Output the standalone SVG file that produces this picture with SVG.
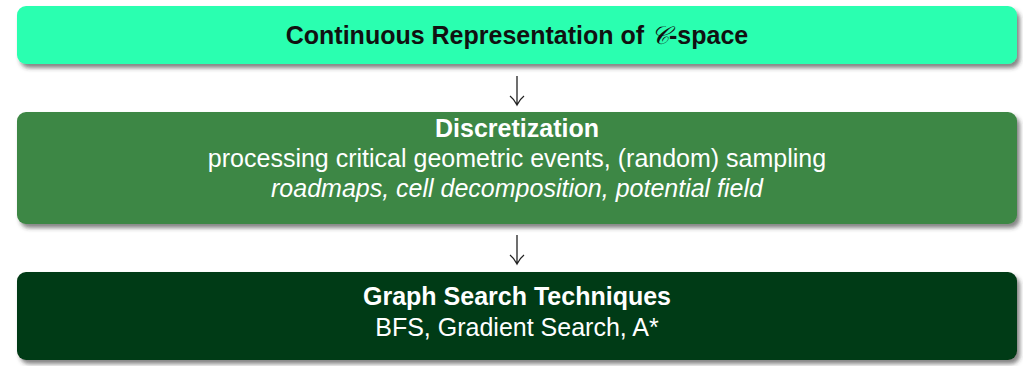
<svg xmlns="http://www.w3.org/2000/svg" width="1023" height="366" viewBox="0 0 1023 366">
<style>
.t{font-family:"Liberation Sans",Arial,sans-serif;font-size:25px;text-anchor:middle}
.b{font-weight:bold}
.i{font-style:italic}
.w{fill:#ffffff}
.k{fill:#111111}
.arr{stroke:#222;stroke-width:1.3;fill:none}
</style>
<defs>
<filter id="sh" x="-5%" y="-20%" width="110%" height="150%">
<feDropShadow dx="3" dy="4" stdDeviation="2" flood-color="#333" flood-opacity="0.6"/>
</filter>
</defs>
<g id="node1">
<rect x="17" y="6" width="1000" height="58" rx="9" fill="#2cffb0" filter="url(#sh)"/>
<text class="t b k" x="517" y="44">Continuous Representation of <tspan font-family="Liberation Serif,serif" font-style="italic" font-weight="normal">𝒞</tspan>-space</text>
</g>
<g id="node2">
<rect x="17" y="112" width="1000" height="112" rx="9" fill="#3d8744" filter="url(#sh)"/>
<text class="t b w" x="517" y="137">Discretization</text>
<text class="t w" x="517" y="167">processing critical geometric events, (random) sampling</text>
<text class="t i w" x="517" y="197">roadmaps, cell decomposition, potential field</text>
</g>
<g id="node3">
<rect x="17" y="272" width="1000" height="88" rx="9" fill="#043b14" filter="url(#sh)"/>
<text class="t b w" x="517" y="305">Graph Search Techniques</text>
<text class="t w" x="517" y="336">BFS, Gradient Search, A*</text>
</g>
<g id="connectors">
<path class="arr" d="M517 76 V104 M510 96 Q514 99 517 105 Q520 99 524 96"/>
<path class="arr" d="M517 235 V263 M510 255 Q514 258 517 264 Q520 258 524 255"/>
</g>
</svg>
